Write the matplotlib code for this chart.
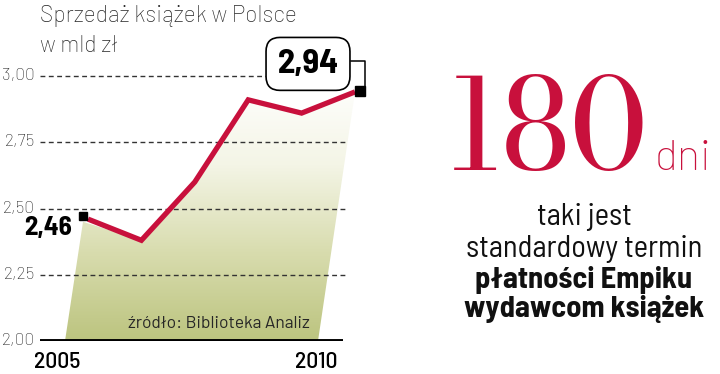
import numpy as np
import matplotlib
matplotlib.use("Agg")
import matplotlib.pyplot as plt
from matplotlib.patches import Polygon
from matplotlib.colors import LinearSegmentedColormap
from matplotlib import transforms

# Data
years = [2005, 2006, 2007, 2008, 2009, 2010]
sales = [2.46, 2.38, 2.60, 2.91, 2.86, 2.94]
yticks = [2.00, 2.25, 2.50, 2.75, 3.00]
ytick_labels = ["2,00", "2,25", "2,50", "2,75", "3,00"]
year_labels = ["2005", "2010"]
title_lines = ["Sprzedaż książek w Polsce", "w mld zł"]
source = "źródło: Biblioteka Analiz"
big_number = "180"
big_unit = "dni"
caption = ["taki jest", "standardowy termin", "płatności Empiku", "wydawcom książek"]

RED = "#c8103c"
DARK = "#262626"
COND = ["Barlow Semi Condensed", "DejaVu Sans"]
LIGHT = ["Barlow", "DejaVu Sans"]
SERIF = ["Bodoni Moda", "Liberation Serif", "DejaVu Serif"]

W, H = 720, 374
fig = plt.figure(figsize=(W / 100, H / 100), dpi=100)

# axes placed so 2005 -> x=88px, 2010 -> x=355px, 2.00 -> y=341px
px_per_year = (355 - 88) / 5
px_per_unit = (341 - 76) / 1.0
x_left = years[0] - (88 - 40) / px_per_year
x_right = years[-1] + (365 - 355) / px_per_year
y_top = 2.0 + (341 - 30) / px_per_unit
ax = fig.add_axes([40 / W, (H - 341) / H, 325 / W, (341 - 30) / H])
ax.axis("off")

# gradient fill, a slanted shape under the line
grid_end = years[-1] - 10 / px_per_year
poly = [(years[0] - 23 / px_per_year, 2.0),
        (years[0] - 5 / px_per_year, sales[0] - 0.01)]
poly += list(zip(years[1:], sales[1:]))
poly += [(years[-1] - 37 / px_per_year, 2.0)]
patch = Polygon(poly, closed=True, fc="none", ec="none")
ax.add_patch(patch)
cmap = LinearSegmentedColormap.from_list("fillg", ["#bcc47f", "#d8dcae", "#f4f5e6", "#ffffff"])
grad = np.linspace(0, 1, 256).reshape(-1, 1)
img = ax.imshow(grad, cmap=cmap, origin="lower", aspect="auto",
                extent=(x_left, x_right, 2.0, 3.0), zorder=1)
img.set_clip_path(patch)
ax.set_xlim(x_left, x_right)
ax.set_ylim(2.0, y_top)

# dashed grid + baseline
ax.hlines(yticks[1:], x_left, grid_end, colors="#333333", linestyles=(0, (3.5, 2.5)),
          lw=1.0, zorder=2)
ax.hlines(2.0, x_left, years[-1] - 12 / px_per_year, colors="black", lw=2.8, zorder=3)
for v, lab in zip(yticks, ytick_labels):
    ax.text(x_left - 5 / px_per_year, v, lab, ha="right", va="center",
            fontsize=12.5, family=LIGHT, fontweight="light", color=DARK)

# main line
ax.plot(years, sales, color=RED, lw=3.8, solid_joinstyle="miter",
        solid_capstyle="butt", zorder=4)


def off(dx, dy):
    return transforms.offset_copy(ax.transData, fig=fig, x=dx, y=dy, units="dots")


# first value label
ax.plot([years[0]], [sales[0]], marker="s", ms=6, color="black", transform=off(-5, 3),
        zorder=5, clip_on=False)
ax.text(years[0], sales[0], f"{sales[0]:.2f}".replace(".", ","), transform=off(-16, -9),
        ha="right", va="center", fontsize=19.5, family=COND, fontweight="bold",
        color="black")

# last value label in rounded box, with a bent leader
ax.plot([years[-1]], [sales[-1]], marker="s", ms=7, color="black", transform=off(5, 1),
        zorder=5, clip_on=False)
px, py = ax.transData.transform((years[-1], sales[-1]))
fig.add_artist(plt.Line2D([px - 4, px + 10, px + 10], [py + 31, py + 31, py + 6],
                          transform=None, color="black", lw=1.1))
ax.text(years[-1], sales[-1], f"{sales[-1]:.2f}".replace(".", ","), transform=off(-47, 28),
        ha="center", va="center", fontsize=25, family=COND, fontweight="bold",
        color="black", zorder=6,
        bbox=dict(boxstyle="round,pad=0.33,rounding_size=0.4", fc="white",
                  ec="black", lw=1.2))

# year labels under the axis
for yr, lab, dx in zip([years[0], years[-1]], year_labels, [-8, -18]):
    ax.text(yr, 2.0, lab, transform=off(dx, -27), ha="right", va="baseline",
            fontsize=17, family=COND, fontweight="medium", color="black")

ax.text(years[-1] - 45 / px_per_year, 2.0, source, transform=off(0, 13), ha="right",
        va="baseline", fontsize=12.5, family=LIGHT, color=DARK)

# title
fig.text(40 / W, (H - 22) / H, title_lines[0], ha="left", va="baseline",
         fontsize=16.5, family=LIGHT, fontweight="light", color=DARK)
fig.text(40 / W, (H - 52) / H, title_lines[1], ha="left", va="baseline",
         fontsize=16.5, family=LIGHT, fontweight="light", color=DARK)

# right side
fig.text(648 / W, (H - 170) / H, big_number, ha="right", va="baseline", fontsize=90,
         family=SERIF, color=RED)
fig.text(655 / W, (H - 170) / H, big_unit, ha="left", va="baseline", fontsize=31,
         family=LIGHT, fontweight="light", color=RED)
for i, (line, y) in enumerate(zip(caption, [225, 257, 288, 317])):
    fig.text(584 / W, (H - y) / H, line, ha="center", va="baseline", fontsize=22,
             family=COND, fontweight="bold" if i >= 2 else "normal", color="#111111")

fig.savefig("out.png", dpi=100)
